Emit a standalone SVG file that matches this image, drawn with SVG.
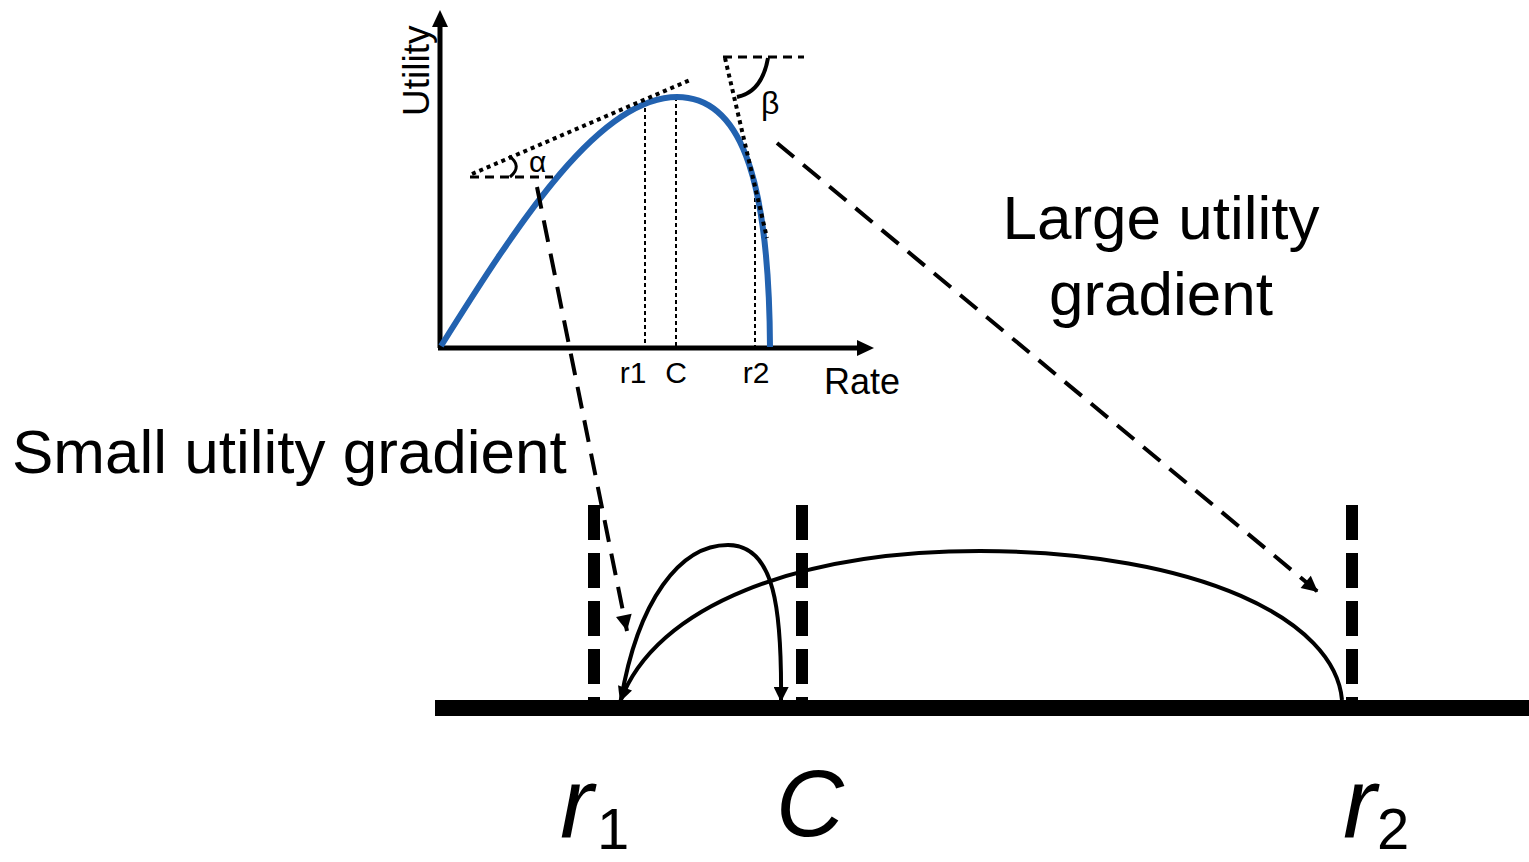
<svg xmlns="http://www.w3.org/2000/svg" width="1529" height="862" viewBox="0 0 1529 862">
<style>
.lbl{font-family:"Liberation Sans",Arial,sans-serif;fill:#000}
.ax{stroke:#000;stroke-width:5;fill:none}
.vdot{stroke:#000;stroke-width:2;stroke-dasharray:4 3;fill:none}
.tdot{stroke:#000;stroke-width:4;stroke-dasharray:4 4;fill:none}
.hdash{stroke:#000;stroke-width:3;stroke-dasharray:9 6;fill:none}
.arrowd{stroke:#000;stroke-width:4;stroke-dasharray:22 12;fill:none}
.vthick{stroke:#000;stroke-width:12;stroke-dasharray:35 13;fill:none}
.jump{stroke:#000;stroke-width:4;fill:none}
</style>
<defs>
<marker id="ah" viewBox="0 0 10 10" refX="10" refY="5" markerWidth="17" markerHeight="16" markerUnits="userSpaceOnUse" orient="auto">
<path d="M0,0 L10,5 L0,10 z" fill="#000"/>
</marker>
<marker id="ah2" viewBox="0 0 10 10" refX="10" refY="5" markerWidth="16" markerHeight="15" markerUnits="userSpaceOnUse" orient="auto">
<path d="M0,0 L10,5 L0,10 z" fill="#000"/>
</marker>
</defs>
<rect width="1529" height="862" fill="#fff"/>

<g id="plot">
<line class="ax" x1="440" y1="348" x2="440" y2="24"/>
<polygon points="440,10 432,27 448,27" fill="#000"/>
<line class="ax" x1="438" y1="348" x2="859" y2="348"/>
<polygon points="874,348 857,340 857,356" fill="#000"/>
<text class="lbl" font-size="37" transform="translate(429,116) rotate(-90)">Utility</text>
<text class="lbl" font-size="36" x="824" y="394">Rate</text>
<line class="vdot" x1="645" y1="108" x2="645" y2="346"/>
<line class="vdot" x1="676" y1="97" x2="676" y2="346"/>
<line class="vdot" x1="755" y1="198" x2="755" y2="346"/>
<text class="lbl" font-size="30" x="633" y="383" text-anchor="middle">r1</text>
<text class="lbl" font-size="30" x="676" y="383" text-anchor="middle">C</text>
<text class="lbl" font-size="30" x="756" y="383" text-anchor="middle">r2</text>
<path d="M441,346 C520,220 600,97 677,97 C738,97 769,170 770,347" stroke="#2262b0" stroke-width="6" fill="none"/>
<line class="tdot" x1="472" y1="174" x2="690" y2="80"/>
<line class="hdash" x1="470" y1="177" x2="553" y2="177"/>
<path d="M509,156 Q523,166 510,177" stroke="#000" stroke-width="3" fill="none"/>
<text class="lbl" font-size="30" x="529" y="172">α</text>
<line class="hdash" x1="723" y1="57" x2="804" y2="57"/>
<line class="tdot" x1="725" y1="58" x2="767" y2="238"/>
<path d="M768,58 Q762,92 737,97" stroke="#000" stroke-width="4" fill="none"/>
<text class="lbl" font-size="32" x="761" y="114">β</text>
</g>

<g id="labels">
<text class="lbl" font-size="62" x="12" y="473">Small utility gradient</text>
<text class="lbl" font-size="62" x="1161" y="239" text-anchor="middle">Large utility</text>
<text class="lbl" font-size="62" x="1161" y="315" text-anchor="middle">gradient</text>
</g>

<g id="axis-bottom">
<line x1="435" y1="708" x2="1529" y2="708" stroke="#000" stroke-width="16"/>
<line class="vthick" x1="594" y1="505" x2="594" y2="700"/>
<line class="vthick" x1="802" y1="505" x2="802" y2="700"/>
<line class="vthick" x1="1352" y1="505" x2="1352" y2="700"/>
<text class="lbl" font-size="100" font-style="italic" x="560" y="838">r</text>
<text class="lbl" font-size="58" x="597" y="849">1</text>
<text class="lbl" font-size="94" font-style="italic" x="776" y="836">C</text>
<text class="lbl" font-size="100" font-style="italic" x="1343" y="838">r</text>
<text class="lbl" font-size="58" x="1377" y="849">2</text>
</g>

<g id="connectors">
<line class="arrowd" x1="537" y1="187" x2="627" y2="631" marker-end="url(#ah)"/>
<line class="arrowd" x1="777" y1="143" x2="1318" y2="592" marker-end="url(#ah)"/>
<path class="jump" d="M621,700 C638,600 680,545 728,545 C775,545 782,610 781,702" marker-end="url(#ah2)"/>
<path class="jump" d="M1342,700 C1335,620 1200,552 980,551 C800,551 655,605 620,702" marker-end="url(#ah2)"/>
</g>
</svg>
